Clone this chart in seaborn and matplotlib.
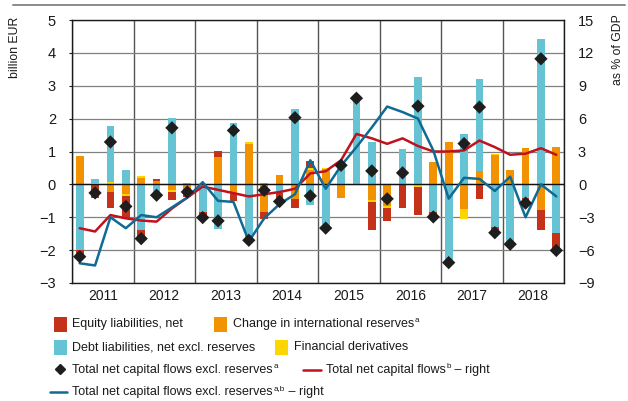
import numpy as np
import pandas as pd
import seaborn as sns
import matplotlib
matplotlib.use("Agg")
import matplotlib.pyplot as plt
from matplotlib.patches import Rectangle
from matplotlib.lines import Line2D

# ---- data (quarterly, 2011Q1 - 2018Q4) ----
years = ["2011", "2012", "2013", "2014", "2015", "2016", "2017", "2018"]
quarter_idx = list(range(32))

# billion EUR
equity = [-0.15, -0.40, -0.50, -0.70, -0.20, 0.07, -0.25, -0.25,
          -0.15, 0.18, -0.22, 0.00, -0.22, -0.30, -0.27, 0.22,
          0.00, 0.00, 0.00, -0.84, -0.40, -0.71, -0.84, -0.08,
          0.00, 0.00, -0.46, -0.08, 0.00, -0.20, -0.59, -0.48]
debt = [-2.00, 0.12, 1.70, 0.43, -1.40, -0.30, 2.03, 0.03,
        -0.84, -1.35, 1.87, -1.70, 0.04, -0.25, 2.30, -0.62,
        -1.30, 0.63, 2.63, 1.29, 0.00, 1.08, 3.26, -0.84,
        -2.31, 1.54, 2.81, -1.30, -1.85, -0.41, 4.43, -1.48]
reserves = [0.87, 0.00, -0.23, -0.28, 0.20, 0.10, -0.18, -0.13,
            0.00, 0.83, -0.28, 1.24, -0.84, 0.27, -0.44, 0.45,
            0.47, -0.42, 0.00, -0.47, -0.67, 0.00, 0.00, 0.68,
            1.29, -0.74, 0.40, 0.90, 0.45, 1.11, -0.79, 1.13]
derivatives = [0.00, 0.05, 0.07, -0.06, 0.04, 0.00, -0.05, 0.00,
               0.00, 0.00, 0.00, 0.05, 0.00, 0.00, 0.00, 0.05,
               0.03, 0.00, 0.02, -0.07, -0.05, 0.00, -0.08, 0.00,
               0.00, -0.30, 0.00, 0.03, 0.00, 0.00, 0.00, 0.00]
total_excl = [-2.20, -0.26, 1.29, -0.67, -1.65, -0.33, 1.72, -0.23,
              -1.01, -1.11, 1.64, -1.70, -0.18, -0.52, 2.03, -0.35,
              -1.33, 0.58, 2.62, 0.41, -0.44, 0.35, 2.38, -0.99,
              -2.38, 1.24, 2.35, -1.47, -1.82, -0.57, 3.82, -2.01]

# % of GDP (right axis)
total_pct = [-4.0, -4.3, -2.8, -3.1, -3.3, -3.4, -2.2, -1.2,
             -0.2, -0.5, -0.8, -1.1, -0.9, -0.7, -0.4, 1.0,
             1.2, 2.2, 4.6, 4.2, 3.7, 4.2, 3.5, 3.0,
             3.0, 3.1, 4.0, 3.4, 2.7, 2.8, 3.3, 2.7]
total_excl_pct = [-7.2, -7.4, -3.0, -4.0, -2.8, -3.0, -2.1, -1.2,
                  0.2, -1.5, -1.6, -5.2, -3.1, -1.8, -0.9, 2.2,
                  -0.4, 1.7, 3.4, 5.2, 7.1, 6.6, 6.0, 3.1,
                  -1.3, 0.6, 0.5, -0.6, 0.7, -3.0, 0.0, -1.1]

# ---- styling ----
C_EQUITY = "#C4321A"
C_DEBT = "#66C3D3"
C_RES = "#F39200"
C_DERIV = "#FFD500"
C_LINE_RED = "#C0121E"
C_LINE_BLUE = "#0F6B93"
C_DIAMOND = "#1E1E1E"
C_TEXT = "#1a1a1a"

sns.set_theme(style="white")
plt.rcParams["font.family"] = ["Liberation Sans", "DejaVu Sans"]
plt.rcParams["axes.unicode_minus"] = True

W, H = 628, 401
fig = plt.figure(figsize=(W / 100, H / 100), dpi=100)


def fx(px):
    return px / W


def fy(py):
    return 1 - py / H


ax_left, ax_right, ax_top, ax_bot = 72, 564, 20, 283
rect = [fx(ax_left), fy(ax_bot), fx(ax_right) - fx(ax_left), fy(ax_top) - fy(ax_bot)]
ax = fig.add_axes(rect)

# stacked bars: positives and negatives stack separately from zero
stack_order = [(reserves, C_RES), (derivatives, C_DERIV), (debt, C_DEBT), (equity, C_EQUITY)]
pos_base = np.zeros(32)
neg_base = np.zeros(32)
for values, col in stack_order:
    v = np.asarray(values, dtype=float)
    bottoms = np.where(v >= 0, pos_base, neg_base)
    ax.bar(quarter_idx, v, width=0.5, bottom=bottoms, color=col, linewidth=0, zorder=2)
    pos_base = pos_base + np.where(v > 0, v, 0)
    neg_base = neg_base + np.where(v < 0, v, 0)

ax.set_xlim(-0.5, 31.5)
ax.set_ylim(-3, 5)
ax.set_yticks(range(-3, 6))
ax.set_yticklabels([str(t).replace("-", "\u2212") for t in range(-3, 6)])
ax.set_xticks([-0.5 + 4 * k for k in range(9)])
ax.set_xticklabels([])
ax.set_xticks([1.5 + 4 * k for k in range(8)], minor=True)
ax.set_xticklabels(years, minor=True)
ax.tick_params(axis="x", which="both", length=0, pad=4, labelsize=10, colors=C_TEXT)
ax.tick_params(axis="y", length=2.5, width=0.8, direction="out", left=True, pad=9,
               labelsize=10.5, colors=C_TEXT)
ax.grid(axis="y", color="#808080", lw=0.9, zorder=0)
ax.grid(axis="x", which="major", color="#555555", lw=1.0, zorder=0)
ax.set_axisbelow(True)
ax.axhline(0, color="#111111", lw=1.0, zorder=3)
for s in ax.spines.values():
    s.set_color(C_TEXT)
    s.set_linewidth(1.0)

# right axis with the two lines
ax2 = ax.twinx()
ax2.set_ylim(-9, 15)
ax2.set_yticks(range(-9, 16, 3))
ax2.set_yticklabels([str(t).replace("-", "\u2212") for t in range(-9, 16, 3)])
ax2.tick_params(axis="y", length=0, pad=10, labelsize=10.5, colors=C_TEXT)
ax2.grid(False)
for s in ax2.spines.values():
    s.set_visible(False)
lines_df = pd.DataFrame({"q": quarter_idx, "total": total_pct, "excl": total_excl_pct})
sns.lineplot(data=lines_df, x="q", y="total", ax=ax2, color=C_LINE_RED, lw=1.8)
sns.lineplot(data=lines_df, x="q", y="excl", ax=ax2, color=C_LINE_BLUE, lw=1.8)
ax2.set_xlabel("")
ax2.set_ylabel("")

# diamonds on top of everything
ax3 = fig.add_axes(rect, sharex=ax, sharey=ax)
ax3.patch.set_visible(False)
ax3.axis("off")
sns.scatterplot(x=quarter_idx, y=total_excl, ax=ax3, marker="D", s=46,
                color=C_DIAMOND, edgecolor="none", linewidth=0, zorder=5)
ax3.set_xlim(-0.5, 31.5)
ax3.set_ylim(-3, 5)

# axis titles
fig.text(fx(15), fy(17), "billion EUR", rotation=90, ha="center", va="top", fontsize=8.8, color=C_TEXT)
fig.text(fx(618), fy(14), "as % of GDP", rotation=90, ha="center", va="top", fontsize=8.8, color=C_TEXT)

# rule across the top
fig.add_artist(Line2D([fx(13), fx(625)], [fy(5), fy(5)], color="#8a8a8a", lw=1.4))

# ---- legend ----
renderer = fig.canvas.get_renderer()
LEG_FS = 9.0
SUP_FS = 5.8


def label(x_px, y_px, segments):
    """Write a label made of (text, superscript?) segments starting at x_px."""
    x = x_px
    for txt, sup in segments:
        if sup:
            t = fig.text(fx(x + 0.5), fy(y_px - 3.5), txt, fontsize=SUP_FS, va="center", ha="left", color=C_TEXT)
        else:
            t = fig.text(fx(x), fy(y_px), txt, fontsize=LEG_FS, va="center", ha="left", color=C_TEXT)
        bb = t.get_window_extent(renderer)
        x = bb.x1 + (0.5 if sup else 0)


def swatch(x_px, y_px, col):
    fig.add_artist(Rectangle((fx(x_px), fy(y_px + 7.5)), 13 / W, 15 / H, color=col, lw=0))


row1, row2, row3, row4 = 324, 347, 370, 392
swatch(54, row1, C_EQUITY)
label(72.5, row1, [("Equity liabilities, net", False)])
swatch(214, row1, C_RES)
label(233, row1, [("Change in international reserves", False), ("a", True)])

swatch(54, row2, C_DEBT)
label(72.5, row2, [("Debt liabilities, net excl. reserves", False)])
swatch(275, row2, C_DERIV)
label(294, row2, [("Financial derivatives", False)])

fig.add_artist(Line2D([fx(60)], [fy(row3 - 1)], marker="D", ms=5.5, color=C_DIAMOND, lw=0))
label(72.5, row3, [("Total net capital flows excl. reserves", False), ("a", True)])
fig.add_artist(Line2D([fx(303), fx(321)], [fy(row3), fy(row3)], color=C_LINE_RED, lw=1.8))
label(326, row3, [("Total net capital flows", False), ("b", True), (" \u2013 right", False)])

fig.add_artist(Line2D([fx(50), fx(67)], [fy(row4), fy(row4)], color=C_LINE_BLUE, lw=1.8))
label(72.5, row4, [("Total net capital flows excl. reserves", False), ("a,b", True), (" \u2013 right", False)])

fig.savefig("out.png", dpi=100)
